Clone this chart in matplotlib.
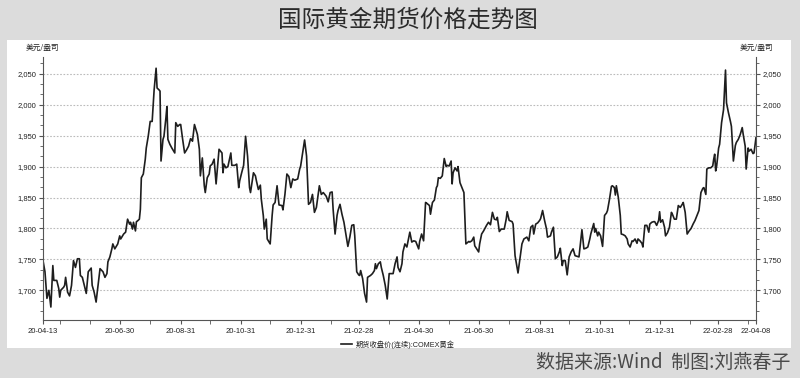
import matplotlib
matplotlib.use("Agg")
import matplotlib.pyplot as plt
import matplotlib.dates as mdates
from matplotlib.patches import Rectangle
from matplotlib.ticker import MultipleLocator, FuncFormatter
import pandas as pd

plt.rcParams['font.family'] = ['Liberation Sans', 'Noto Sans CJK SC', 'DejaVu Sans']

# days after 2020-04-13 and COMEX gold close (USD/oz)
day_offset = [
    0, 2, 4, 6, 8, 10, 11, 14, 16, 17, 18, 21, 22, 23, 25, 27, 29, 31, 33, 35,
    37, 38, 40, 42, 44, 46, 49, 50, 52, 54, 55, 58, 61, 63, 65, 66, 68, 70, 71, 73,
    76, 78, 79, 82, 84, 86, 88, 89, 91, 92, 94, 95, 96, 98, 99, 100, 102, 104, 105, 107,
    109, 111, 113, 115, 116, 118, 119, 120, 122, 123, 125, 126, 127, 129, 131, 134, 135, 137, 139, 140,
    142, 144, 146, 148, 150, 151, 152, 154, 156, 157, 159, 160, 162, 164, 165, 167, 169, 170, 172, 174,
    176, 177, 179, 182, 183, 184, 186, 188, 191, 192, 195, 197, 199, 200, 202, 204, 206, 208, 210, 211,
    214, 216, 217, 219, 221, 222, 224, 225, 227, 228, 231, 233, 234, 236, 238, 240, 243, 244, 246, 248,
    250, 252, 254, 256, 259, 261, 262, 265, 266, 268, 270, 272, 274, 276, 278, 281, 283, 285, 288, 290,
    292, 294, 295, 297, 299, 300, 302, 304, 306, 308, 310, 312, 314, 316, 317, 319, 321, 322, 323, 325,
    327, 329, 330, 333, 335, 337, 338, 339, 341, 343, 344, 346, 348, 350, 352, 355, 356, 358, 360, 361,
    363, 365, 366, 368, 370, 373, 375, 377, 379, 382, 383, 385, 387, 389, 390, 393, 394, 396, 398, 400,
    401, 402, 404, 406, 408, 410, 411, 413, 415, 416, 417, 419, 421, 422, 424, 426, 428, 430, 433, 434,
    436, 438, 439, 441, 443, 444, 446, 448, 451, 453, 455, 457, 459, 461, 462, 464, 466, 469, 471, 472,
    474, 477, 478, 480, 482, 483, 485, 487, 489, 492, 494, 496, 498, 499, 501, 503, 505, 506, 508, 510,
    512, 513, 516, 517, 519, 520, 521, 523, 525, 526, 528, 529, 531, 533, 535, 537, 539, 541, 543, 545,
    548, 550, 552, 554, 556, 557, 559, 560, 561, 562, 564, 565, 567, 569, 571, 573, 574, 576, 578, 579,
    581, 582, 583, 585, 587, 588, 590, 592, 594, 595, 597, 599, 600, 602, 604, 605, 607, 609, 610, 612,
    614, 616, 617, 619, 621, 622, 624, 626, 627, 628, 630, 632, 633, 635, 637, 639, 640, 642, 644, 646,
    648, 650, 651, 653, 655, 657, 659, 661, 663, 665, 667, 669, 671, 672, 674, 675, 677, 679, 681, 682,
    683, 684, 685, 687, 688, 690, 692, 694, 695, 697, 699, 700, 702, 704, 705, 707, 709, 711, 712, 714,
    715, 717, 718, 720, 722, 723, 725,
]
close_price = [
    1748, 1730, 1687, 1700, 1673, 1740, 1716, 1716, 1703, 1689, 1700, 1705, 1708, 1721, 1697, 1691, 1708, 1748, 1737, 1751,
    1751, 1724, 1721, 1708, 1695, 1730, 1736, 1708, 1697, 1681, 1695, 1735, 1730, 1721, 1727, 1746, 1754, 1767, 1775, 1767,
    1775, 1788, 1783, 1791, 1794, 1815, 1807, 1810, 1799, 1810, 1796, 1811, 1812, 1815, 1831, 1882, 1888, 1912, 1930, 1949,
    1973, 1973, 2024, 2059, 2027, 2024, 2022, 1909, 1944, 1949, 1979, 1997, 1944, 1936, 1930, 1922, 1971, 1965, 1968, 1968,
    1944, 1922, 1927, 1933, 1945, 1944, 1941, 1968, 1957, 1952, 1928, 1885, 1914, 1869, 1858, 1882, 1888, 1901, 1904, 1912,
    1872, 1890, 1928, 1922, 1890, 1904, 1898, 1900, 1922, 1902, 1902, 1904, 1866, 1877, 1890, 1902, 1949, 1917, 1866, 1858,
    1890, 1885, 1877, 1863, 1870, 1847, 1821, 1799, 1815, 1783, 1775, 1821, 1838, 1842, 1869, 1838, 1837, 1830, 1855, 1888,
    1884, 1866, 1880, 1878, 1880, 1896, 1901, 1932, 1943, 1917, 1839, 1842, 1855, 1826, 1834, 1869, 1855, 1858, 1852, 1843,
    1858, 1859, 1831, 1791, 1821, 1829, 1839, 1823, 1810, 1791, 1771, 1786, 1805, 1806, 1788, 1730, 1725, 1724, 1732, 1719,
    1695, 1681, 1721, 1724, 1727, 1732, 1743, 1735, 1743, 1746, 1737, 1724, 1708, 1686, 1727, 1727, 1727, 1743, 1754, 1737,
    1730, 1743, 1762, 1775, 1770, 1794, 1778, 1780, 1779, 1767, 1779, 1791, 1780, 1842, 1841, 1837, 1823, 1842, 1846, 1866,
    1869, 1882, 1881, 1885, 1913, 1900, 1902, 1901, 1909, 1872, 1890, 1898, 1893, 1900, 1874, 1866, 1858, 1775, 1779, 1778,
    1780, 1786, 1772, 1767, 1762, 1775, 1791, 1796, 1805, 1810, 1806, 1826, 1815, 1814, 1818, 1795, 1799, 1799, 1815, 1827,
    1813, 1811, 1807, 1756, 1737, 1728, 1751, 1775, 1783, 1786, 1780, 1802, 1805, 1791, 1807, 1809, 1813, 1816, 1829, 1813,
    1799, 1786, 1788, 1794, 1802, 1775, 1751, 1754, 1762, 1768, 1740, 1748, 1748, 1725, 1754, 1762, 1767, 1756, 1755, 1754,
    1798, 1767, 1768, 1770, 1783, 1791, 1802, 1808, 1794, 1800, 1788, 1794, 1788, 1771, 1821, 1825, 1829, 1847, 1868, 1869,
    1866, 1854, 1869, 1850, 1821, 1791, 1790, 1788, 1783, 1775, 1770, 1780, 1779, 1783, 1776, 1783, 1780, 1776, 1770, 1805,
    1805, 1794, 1807, 1810, 1811, 1811, 1805, 1813, 1827, 1810, 1814, 1802, 1788, 1793, 1802, 1826, 1823, 1815, 1815, 1837,
    1834, 1839, 1842, 1826, 1791, 1796, 1800, 1807, 1813, 1821, 1829, 1858, 1865, 1866, 1855, 1896, 1898, 1898, 1901, 1912,
    1920, 1893, 1901, 1930, 1936, 1971, 1992, 2056, 2003, 1987, 1973, 1965, 1909, 1934, 1939, 1944, 1952, 1963, 1952, 1933,
    1896, 1930, 1925, 1928, 1921, 1922, 1947,
]

start_date = pd.Timestamp('2020-04-13')
end_date = pd.Timestamp('2022-04-08')
major_ticks = ['2020-04-13', '2020-06-30', '2020-08-31', '2020-10-31', '2020-12-31', '2021-02-28',
               '2021-04-30', '2021-06-30', '2021-08-31', '2021-10-31', '2021-12-31', '2022-02-28', '2022-04-08']
minor_ticks = ['2020-04-30', '2020-05-31', '2020-07-31', '2020-09-30', '2020-11-30', '2021-01-31',
               '2021-03-31', '2021-05-31', '2021-07-31', '2021-09-30', '2021-11-30', '2022-01-31', '2022-03-31']

dates = start_date + pd.to_timedelta(day_offset, unit='D')

fig = plt.figure(figsize=(8, 3.78), dpi=100, facecolor='#dcdcdc')
fig.add_artist(Rectangle((0.009, 0.079), 0.98, 0.815, transform=fig.transFigure,
                         facecolor='white', edgecolor='none', zorder=0))

ax = fig.add_axes([0.05375, 0.1534, 0.89125, 0.6956])
ax.set_facecolor('white')
ax.plot(dates, close_price, color='#1e1e1e', linewidth=1.2, label='期货收盘价(连续):COMEX黄金')

ax.set_xlim(start_date, end_date)
ax.set_ylim(1652, 2077)

ax.yaxis.set_major_locator(MultipleLocator(50))
ax.yaxis.set_minor_locator(MultipleLocator(50 / 3))
ax.yaxis.set_major_formatter(FuncFormatter(lambda v, p: f'{v:,.0f}'))
ax.set_xticks(pd.to_datetime(major_ticks))
ax.set_xticks(pd.to_datetime(minor_ticks), minor=True)
ax.xaxis.set_major_formatter(mdates.DateFormatter('%y-%m-%d'))

ax.grid(axis='y', which='major', linestyle=(0, (1.5, 1.5)), color='#bbbbbb', linewidth=0.8)
for side in ['left', 'right', 'bottom']:
    ax.spines[side].set_color('#555555')
    ax.spines[side].set_linewidth(0.8)
ax.spines['top'].set_visible(False)

ax.tick_params(axis='y', which='both', left=True, right=True, labelleft=True, labelright=True,
               direction='out', colors='#555555', labelcolor='#222222', labelsize=5.5, pad=2)
ax.tick_params(axis='y', which='major', length=3)
ax.tick_params(axis='y', which='minor', length=2)
ax.tick_params(axis='x', which='both', direction='out', length=3, colors='#555555',
               labelcolor='#222222', labelsize=5.5, pad=3)

fig.text(0.0525, 0.873, '美元/盎司', ha='center', va='center', fontsize=5.5, color='#222222',
         family=['Noto Sans CJK SC', 'DejaVu Sans'])
fig.text(0.945, 0.873, '美元/盎司', ha='center', va='center', fontsize=5.5, color='#222222',
         family=['Noto Sans CJK SC', 'DejaVu Sans'])

leg = ax.legend(loc='center', bbox_to_anchor=(0.497, 0.089), bbox_transform=fig.transFigure,
                frameon=False, fontsize=5.2, handlelength=1.6, handletextpad=0.5)
for t in leg.get_texts():
    t.set_color('#222222')

fig.text(0.51, 0.947, '国际黄金期货价格走势图', ha='center', va='center', fontsize=17,
         color='#2b2b2b', family=['Noto Sans CJK SC', 'DejaVu Sans'])
fig.text(0.988, 0.04, '数据来源:Wind  制图:刘燕春子', ha='right', va='center', fontsize=13.7,
         color='#4a4a4a', family=['Noto Sans CJK SC', 'DejaVu Sans'])

fig.savefig('out.png', dpi=100, facecolor=fig.get_facecolor())
plt.close(fig)
